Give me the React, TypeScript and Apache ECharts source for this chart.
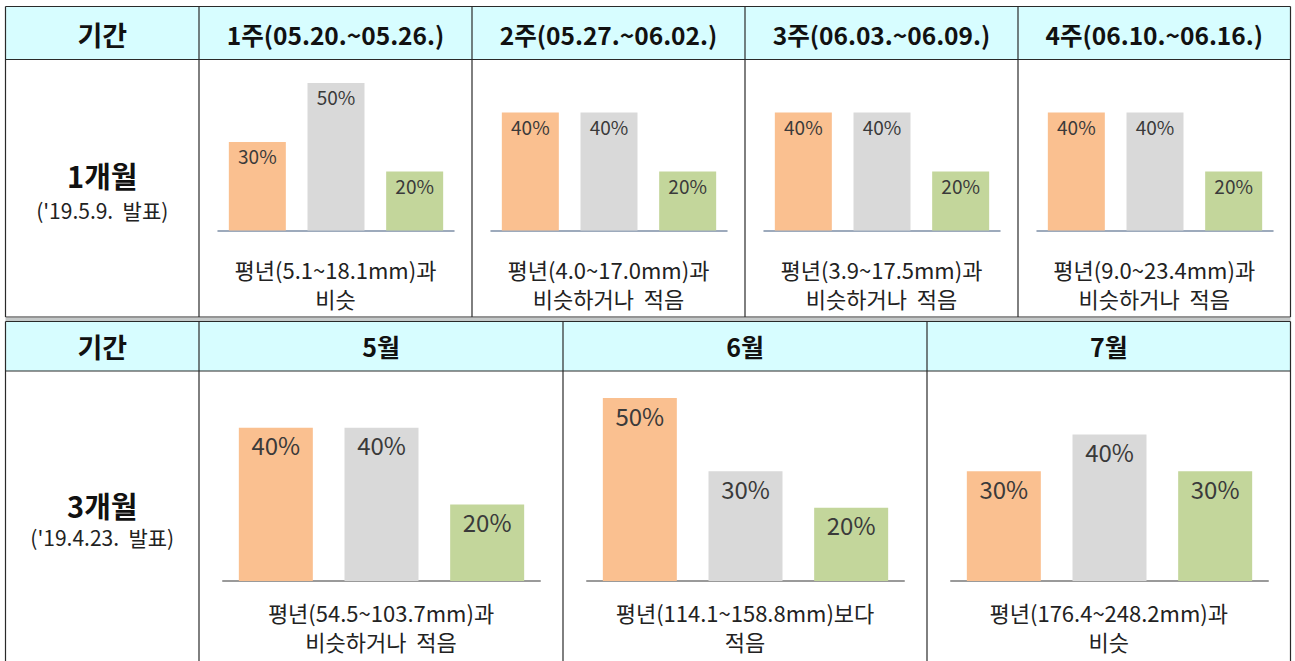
import React, { useEffect, useRef } from "react";
import * as echarts from "echarts";

// ---- data ----
const categories = ["적음", "비슷", "많음"];
const barColors = ["#FAC090", "#D9D9D9", "#C3D69B"];

const rowHeader = "기간";
const oneMonthTitle = "1개월";
const oneMonthIssued = "('19.5.9.  발표)";
const threeMonthTitle = "3개월";
const threeMonthIssued = "('19.4.23.  발표)";

const oneMonthPeriods = ["1주(05.20.~05.26.)", "2주(05.27.~06.02.)", "3주(06.03.~06.09.)", "4주(06.10.~06.16.)"];
const oneMonthBelow = [30, 40, 40, 40];
const oneMonthNormal = [50, 40, 40, 40];
const oneMonthAbove = [20, 20, 20, 20];
const oneMonthNotes = [
  "평년(5.1~18.1mm)과\n비슷",
  "평년(4.0~17.0mm)과\n비슷하거나  적음",
  "평년(3.9~17.5mm)과\n비슷하거나  적음",
  "평년(9.0~23.4mm)과\n비슷하거나  적음",
];

const threeMonthPeriods = ["5월", "6월", "7월"];
const threeMonthBelow = [40, 50, 30];
const threeMonthNormal = [40, 30, 40];
const threeMonthAbove = [20, 20, 30];
const threeMonthNotes = [
  "평년(54.5~103.7mm)과\n비슷하거나  적음",
  "평년(114.1~158.8mm)보다\n적음",
  "평년(176.4~248.2mm)과\n비슷",
];

// ---- layout ----
const FONT = "'Noto Sans CJK KR', 'Noto Sans', sans-serif";
const L = 5.5;
const R = 1290.5;
const topCols = [199, 472, 745, 1018, R];
const botCols = [199, 563, 927, R];
const T1 = 6.5, H1 = 59.5, B1 = 317;
const T2 = 321.5, H2 = 371, B2 = 700;
const LINE = "#2a2a2a";

export default function App() {
  const ref = useRef<HTMLDivElement>(null);
  useEffect(() => {
    if (!ref.current) return;
    const chart = echarts.init(ref.current, null, { renderer: "svg" });

    const grids: any[] = [];
    const xAxes: any[] = [];
    const yAxes: any[] = [];
    const series: any[] = [];
    const graphics: any[] = [];

    const addChart = (
      gLeft: number, gWidth: number, gTop: number, gHeight: number,
      vals: number[], barWidth: number, fontSize: number, dist: number,
      axisColor: string, axisWidth: number
    ) => {
      const idx = grids.length;
      grids.push({ left: gLeft, width: gWidth, top: gTop, height: gHeight });
      xAxes.push({
        type: "category", gridIndex: idx, data: categories,
        axisLine: { show: true, lineStyle: { color: axisColor, width: axisWidth } },
        axisTick: { show: false }, axisLabel: { show: false },
      });
      yAxes.push({
        type: "value", gridIndex: idx, min: 0, max: 50,
        show: false, splitLine: { show: false },
      });
      series.push({
        type: "bar", xAxisIndex: idx, yAxisIndex: idx, barWidth,
        data: vals.map((v, i) => ({ value: v, itemStyle: { color: barColors[i] } })),
        label: {
          show: true, position: "insideTop", distance: dist,
          formatter: "{c}%", fontSize, color: "#3a3a3a", fontFamily: FONT,
        },
      });
    };

    // top row charts
    for (let i = 0; i < 4; i++) {
      addChart(topCols[i] + 19, 236, 83, 147.5,
        [oneMonthBelow[i], oneMonthNormal[i], oneMonthAbove[i]], 57, 19, 4, "#7d8fa6", 1.5);
    }
    // bottom row charts
    const botScale = [[389.5, 191.5], [398, 183], [398, 183]];
    for (let i = 0; i < 3; i++) {
      addChart(botCols[i] + 24, 317, botScale[i][0], botScale[i][1],
        [threeMonthBelow[i], threeMonthNormal[i], threeMonthAbove[i]], 74, 24, 5, "#9a9a9a", 2);
    }

    // header backgrounds
    graphics.push({ type: "rect", shape: { x: L, y: T1, width: R - L, height: H1 - T1 }, style: { fill: "#d7fdff" }, z: 0 });
    graphics.push({ type: "rect", shape: { x: L, y: T2, width: R - L, height: H2 - T2 }, style: { fill: "#d7fdff" }, z: 0 });
    graphics.push({ type: "rect", shape: { x: L, y: B1 + 1, width: R - L, height: T2 - B1 - 1.5 }, style: { fill: "#c4c8c8" }, z: 0 });

    const hline = (x1: number, x2: number, y: number) =>
      graphics.push({ type: "line", shape: { x1, y1: y, x2, y2: y }, style: { stroke: LINE, lineWidth: 1.2 }, z: 10 });
    const vline = (x: number, y1: number, y2: number) =>
      graphics.push({ type: "line", shape: { x1: x, y1, x2: x, y2 }, style: { stroke: LINE, lineWidth: 1.2 }, z: 10 });

    [T1, H1, B1].forEach((y) => hline(L, R, y));
    [L, ...topCols].forEach((x) => vline(x, T1, B1));
    [T2, H2].forEach((y) => hline(L, R, y));
    [L, ...botCols].forEach((x) => vline(x, T2, B2));

    const text = (x: number, y: number, t: string, size: number, bold: boolean, extra: any = {}) =>
      graphics.push({
        type: "text", x, y, z: 20,
        style: {
          text: t, x: 0, y: 0, align: "center", verticalAlign: "middle",
          font: `${bold ? "bold " : ""}${size}px ${FONT}`, fill: "#111", ...extra,
        },
      });

    // top header
    text((L + topCols[0]) / 2, 34, rowHeader, 27, true);
    for (let i = 0; i < 4; i++) text((topCols[i] + topCols[i + 1]) / 2, 34, oneMonthPeriods[i], 24.5, true);
    text((L + topCols[0]) / 2, 175, oneMonthTitle, 29, true);
    text((L + topCols[0]) / 2, 210, oneMonthIssued, 21, false, { fill: "#222" });
    for (let i = 0; i < 4; i++)
      text((topCols[i] + topCols[i + 1]) / 2, 283, oneMonthNotes[i], 22, false, { fill: "#222", lineHeight: 29 });

    // bottom header
    text((L + botCols[0]) / 2, 346, rowHeader, 27, true);
    for (let i = 0; i < 3; i++) text((botCols[i] + botCols[i + 1]) / 2, 346, threeMonthPeriods[i], 25, true);
    text((L + botCols[0]) / 2, 505, threeMonthTitle, 29, true);
    text((L + botCols[0]) / 2, 537, threeMonthIssued, 21, false, { fill: "#222" });
    for (let i = 0; i < 3; i++)
      text((botCols[i] + botCols[i + 1]) / 2, 626, threeMonthNotes[i], 22, false, { fill: "#222", lineHeight: 29 });

    chart.setOption({
      animation: false,
      backgroundColor: "#ffffff",
      grid: grids,
      xAxis: xAxes,
      yAxis: yAxes,
      series,
      graphic: graphics,
    });
    return () => chart.dispose();
  }, []);

  return (
    <div
      ref={ref}
      style={{ position: "fixed", left: 0, top: 0, width: 1295, height: 661 }}
    />
  );
}
